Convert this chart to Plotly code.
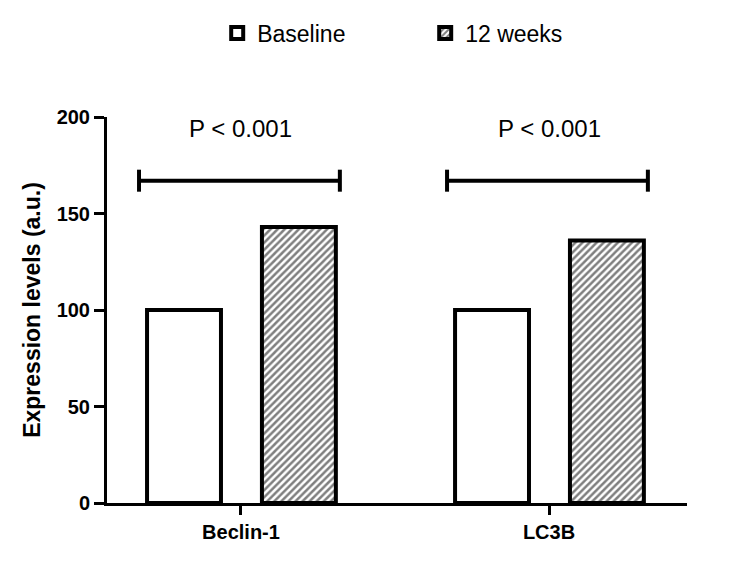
import plotly.graph_objects as go

categories = ["Beclin-1", "LC3B"]
baseline_values = [100, 100]
week12_values = [143, 136]
series_names = ["Baseline", "12 weeks"]
p_labels = ["P < 0.001", "P < 0.001"]
bracket_level = 167
p_label_level = 194
y_ticks = [0, 50, 100, 150, 200]

FONT = "Arial, Liberation Sans, sans-serif"
bar_width = 0.24
base_offset = -0.305
wk_offset = 0.068

fig = go.Figure()
fig.add_trace(go.Bar(
    name=series_names[0], x=categories, y=baseline_values,
    width=bar_width, offset=base_offset,
    marker=dict(color="white", line=dict(color="black", width=4)),
))
fig.add_trace(go.Bar(
    name=series_names[1], x=categories, y=week12_values,
    width=bar_width, offset=wk_offset,
    marker=dict(color="white", line=dict(color="black", width=4),
                pattern=dict(shape="/", fgcolor="black", bgcolor="white",
                             size=5, solidity=0.5)),
))

shapes = []
annotations = []
for i, lab in enumerate(p_labels):
    x0 = i + base_offset - 0.026
    x1 = i + wk_offset + bar_width + 0.013
    shapes.append(dict(type="line", xref="x", yref="y", x0=x0, x1=x1,
                       y0=bracket_level, y1=bracket_level,
                       line=dict(color="black", width=4)))
    for xx in (x0, x1):
        shapes.append(dict(type="line", xref="x", yref="y", x0=xx, x1=xx,
                           y0=bracket_level - 5.7, y1=bracket_level + 5.7,
                           line=dict(color="black", width=4)))
    annotations.append(dict(x=i, y=p_label_level, xref="x", yref="y",
                            text=lab, showarrow=False,
                            font=dict(family=FONT, size=24, color="black")))

fig.update_layout(
    width=750, height=566,
    margin=dict(l=99, r=71, t=109, b=71),
    paper_bgcolor="white", plot_bgcolor="white",
    barmode="overlay",
    showlegend=True,
    legend=dict(orientation="h", x=0.19, xanchor="left",
                y=1 - 25 / 566, yref="container", yanchor="middle",
                font=dict(family=FONT, size=23, color="black"),
                entrywidth=163, itemwidth=30),
    shapes=shapes, annotations=annotations,
    font=dict(family=FONT, color="black"),
)
fig.update_xaxes(
    type="category", range=[-0.435, 1.448],
    showline=True, linecolor="black", linewidth=3,
    ticks="outside", ticklen=9, tickwidth=3, tickcolor="black",
    tickfont=dict(family=FONT, size=20, color="black", weight="bold"),
    showgrid=False, zeroline=False,
)
fig.update_yaxes(
    range=[0, 200], tickvals=y_ticks,
    showline=True, linecolor="black", linewidth=3,
    ticks="outside", ticklen=10, tickwidth=3, tickcolor="black",
    tickfont=dict(family=FONT, size=20, color="black", weight="bold"),
    title=dict(text="Expression levels (a.u.)",
               font=dict(family=FONT, size=23, color="black", weight="bold"),
               standoff=10),
    showgrid=False, zeroline=False,
)

fig.write_html("out.html")
